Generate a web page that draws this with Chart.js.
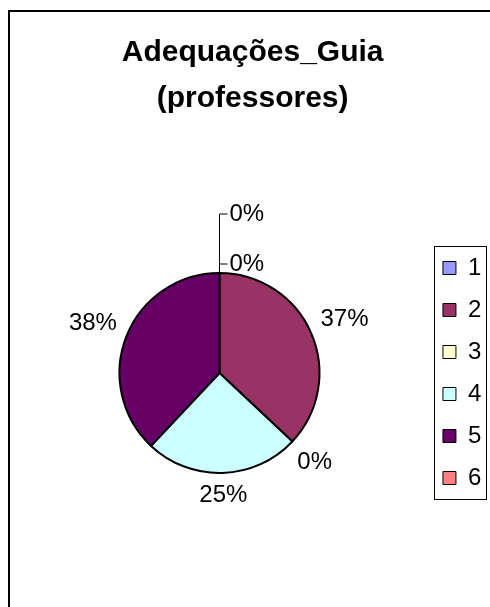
<!DOCTYPE html>
<html>
<head>
<meta charset="utf-8">
<script src="https://cdn.jsdelivr.net/npm/chart.js@4.4.1/dist/chart.umd.min.js"></script>
<style>
  html, body { margin: 0; padding: 0; background: #fff; overflow: hidden; }
  #frame { position: absolute; left: 8px; top: 10px; width: 600px; height: 700px; border: 2px solid #000; }
  #chart { position: absolute; left: 0; top: 0; }
</style>
</head>
<body>
<div id="frame"></div>
<canvas id="chart" width="490" height="607"></canvas>
<script>
const categories = ['1', '2', '3', '4', '5', '6'];
const percentages = [0, 37, 0, 25, 38, 0];
const sliceColors = ['#9999FF', '#993366', '#FFFFCC', '#CCFFFF', '#660066', '#FF8080'];
const titleLines = ['Adequações_Guia', '(professores)'];

const FONT = "'Liberation Sans', Arial, sans-serif";

// percentage labels outside the pie, zero slices at the top get callouts
const pieLabels = {
    id: 'pieLabels',
    afterDatasetsDraw(chart) {
        const ctx = chart.ctx;
        const meta = chart.getDatasetMeta(0);
        let stacked = 0;
        ctx.save();
        ctx.font = '24px ' + FONT;
        ctx.fillStyle = '#000';
        ctx.strokeStyle = '#000';
        ctx.lineWidth = 1;
        ctx.textBaseline = 'middle';
        meta.data.forEach((arc, i) => {
            const {x, y, startAngle, endAngle, outerRadius} =
                arc.getProps(['x', 'y', 'startAngle', 'endAngle', 'outerRadius'], true);
            const text = percentages[i] + '%';
            const w = ctx.measureText(text).width;
            const mid = (startAngle + endAngle) / 2;
            const cos = Math.cos(mid), sin = Math.sin(mid);
            if (percentages[i] === 0 && sin < -0.99) {
                const top = y - outerRadius;
                const ly = top - 9 - stacked * 50;
                ctx.beginPath();
                ctx.moveTo(x, top);
                ctx.lineTo(x, ly);
                ctx.lineTo(x + 8, ly);
                ctx.stroke();
                ctx.textAlign = 'left';
                ctx.fillText(text, x + 10, ly);
                stacked++;
                return;
            }
            const d = outerRadius + 9 + w / 2 * Math.abs(cos) + 13 * Math.abs(sin);
            ctx.textAlign = 'center';
            ctx.fillText(text, x + cos * d, y + sin * d);
        });
        ctx.restore();
    }
};

// thin box round the legend items
const legendFrame = {
    id: 'legendFrame',
    afterDraw(chart) {
        const lg = chart.legend;
        const boxes = lg.legendHitBoxes;
        const first = boxes[0];
        const last = boxes[boxes.length - 1];
        const left = first.left - 9;
        const top = first.top - 10;
        const right = lg.right - 5;
        const bottom = last.top + last.height + 9;
        const ctx = chart.ctx;
        ctx.save();
        ctx.strokeStyle = '#000';
        ctx.lineWidth = 1;
        ctx.strokeRect(Math.round(left) + 0.5, Math.round(top) + 0.5, Math.round(right - left), Math.round(bottom - top));
        ctx.restore();
    }
};

new Chart(document.getElementById('chart'), {
    type: 'pie',
    data: {
        labels: categories,
        datasets: [{
            data: percentages,
            backgroundColor: sliceColors,
            borderColor: '#000',
            borderWidth: 2,
            radius: 100
        }]
    },
    options: {
        responsive: false,
        animation: false,
        layout: {
            padding: { left: 14, right: -1.3, top: 0, bottom: 0 }
        },
        plugins: {
            title: {
                display: true,
                text: titleLines,
                color: '#000',
                font: { family: FONT, size: 30, weight: 'bold', lineHeight: 1.55 },
                padding: { top: 29.25, bottom: 16.75 }
            },
            legend: {
                position: 'right',
                fullSize: false,
                align: 'center',
                labels: {
                    color: '#000',
                    font: { family: FONT, size: 24 },
                    boxWidth: 13,
                    boxHeight: 13,
                    padding: 18,
                    generateLabels(chart) {
                        return Chart.overrides.pie.plugins.legend.labels.generateLabels(chart)
                            .map(item => ({ ...item, lineWidth: 1 }));
                    }
                }
            },
            tooltip: { enabled: false }
        }
    },
    plugins: [pieLabels, legendFrame]
});
</script>
</body>
</html>
